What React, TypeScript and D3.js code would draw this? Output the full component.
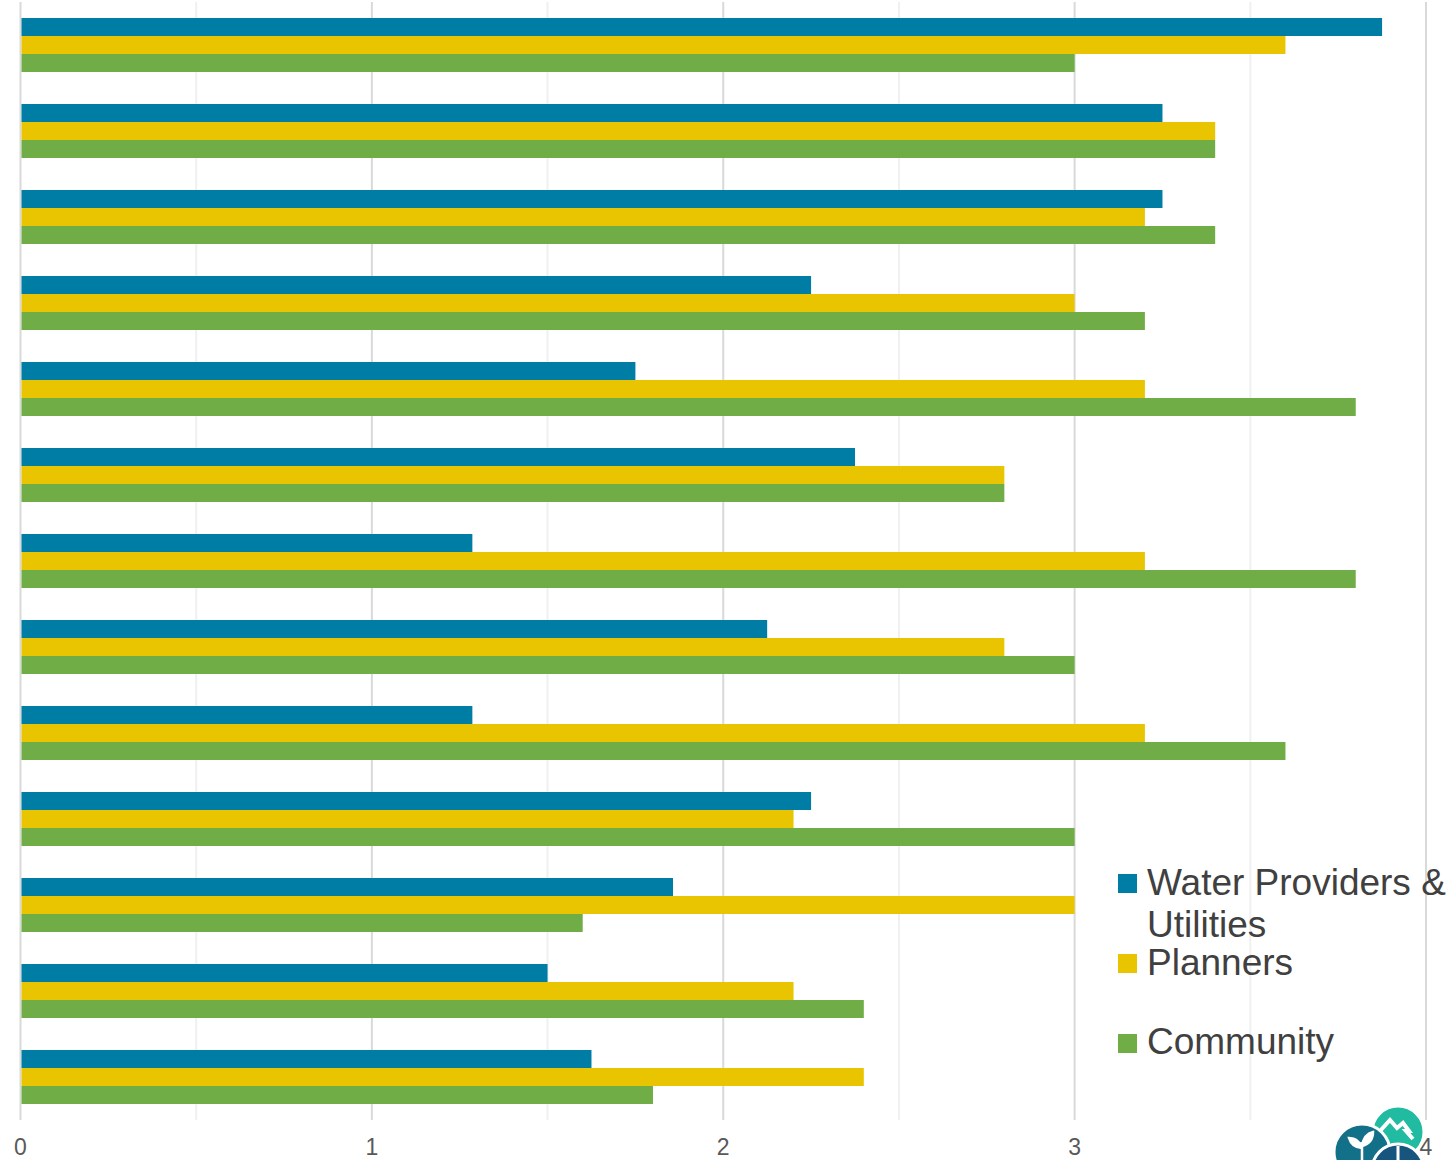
import React, { useEffect, useRef } from 'react';
import * as d3 from 'd3';

const categories = [
  'Item 1', 'Item 2', 'Item 3', 'Item 4', 'Item 5', 'Item 6', 'Item 7',
  'Item 8', 'Item 9', 'Item 10', 'Item 11', 'Item 12', 'Item 13',
];
const seriesNames = ['Water Providers & Utilities', 'Planners', 'Community'];
const waterProviders = [3.875, 3.25, 3.25, 2.25, 1.75, 2.375, 1.286, 2.125, 1.286, 2.25, 1.857, 1.5, 1.625];
const planners = [3.6, 3.4, 3.2, 3.0, 3.2, 2.8, 3.2, 2.8, 3.2, 2.2, 3.0, 2.2, 2.4];
const community = [3.0, 3.4, 3.4, 3.2, 3.8, 2.8, 3.8, 3.0, 3.6, 3.0, 1.6, 2.4, 1.8];
const seriesColors = ['#007DA4', '#E8C500', '#70AD47'];
const xTicks = [0, 1, 2, 3, 4];
const minorTicks = [0.5, 1.5, 2.5, 3.5];

const W = 1454;
const H = 1160;

function App() {
  const ref = useRef<SVGSVGElement>(null);

  useEffect(() => {
    document.body.style.margin = '0';
    const svg = d3.select(ref.current);
    svg.selectAll('*').remove();

    const values = [waterProviders, planners, community];
    const x = d3.scaleLinear().domain([0, 4]).range([20.5, 1426]);
    const y = d3.scaleBand<string>()
      .domain(categories)
      .range([2, 1120])
      .paddingInner(0.372)
      .paddingOuter(0.186);
    const ySub = d3.scaleBand<string>()
      .domain(seriesNames)
      .range([0, y.bandwidth()]);

    // gridlines
    svg.append('g')
      .selectAll('line')
      .data(minorTicks)
      .join('line')
      .attr('x1', d => x(d)).attr('x2', d => x(d))
      .attr('y1', 2).attr('y2', 1120)
      .attr('stroke', '#f0f0f0')
      .attr('stroke-width', 2);
    svg.append('g')
      .selectAll('line')
      .data(xTicks)
      .join('line')
      .attr('x1', d => x(d)).attr('x2', d => x(d))
      .attr('y1', 2).attr('y2', 1120)
      .attr('stroke', '#d9d9d9')
      .attr('stroke-width', 2);

    // bars
    const groups = svg.append('g')
      .selectAll('g')
      .data(categories)
      .join('g')
      .attr('transform', d => `translate(0,${y(d)})`);

    groups.selectAll('rect')
      .data((_, i) => seriesNames.map((s, j) => ({ s, j, v: values[j][i] })))
      .join('rect')
      .attr('x', x(0) + 1)
      .attr('y', d => ySub(d.s) as number)
      .attr('width', d => x(d.v) - x(0) - 1)
      .attr('height', ySub.bandwidth())
      .attr('fill', d => seriesColors[d.j]);

    // logo
    const logo = svg.append('g');
    logo.append('circle').attr('cx', 1398).attr('cy', 1132).attr('r', 26)
      .attr('fill', '#20BBA1').attr('stroke', '#fff').attr('stroke-width', 3);
    logo.append('path')
      .attr('d', 'M1380,1131 L1390,1120 L1397,1128 L1403,1123 L1409,1131 L1406,1131 L1413,1139')
      .attr('fill', 'none').attr('stroke', '#fff').attr('stroke-width', 4)
      .attr('stroke-linejoin', 'miter');
    logo.append('circle').attr('cx', 1362).attr('cy', 1152).attr('r', 28)
      .attr('fill', '#127089').attr('stroke', '#fff').attr('stroke-width', 3);
    logo.append('path')
      .attr('d', 'M1362,1160 L1362,1142 M1362,1148 Q1352,1148 1349,1138 Q1359,1138 1362,1148 M1362,1146 Q1364,1134 1373,1132 Q1373,1143 1362,1146')
      .attr('fill', '#fff').attr('stroke', '#fff').attr('stroke-width', 2.5);
    logo.append('circle').attr('cx', 1398).attr('cy', 1170).attr('r', 26)
      .attr('fill', '#17557E').attr('stroke', '#fff').attr('stroke-width', 3);
    logo.append('path')
      .attr('d', 'M1398,1146 L1398,1160')
      .attr('stroke', '#fff').attr('stroke-width', 3);

    // x tick labels
    svg.append('g')
      .selectAll('text')
      .data(xTicks)
      .join('text')
      .attr('x', d => x(d))
      .attr('y', 1155)
      .attr('text-anchor', 'middle')
      .attr('font-family', 'Liberation Sans, Arial, sans-serif')
      .attr('font-size', 23)
      .attr('fill', '#595959')
      .text(d => String(d));

    // legend
    const legendRows = [
      { lines: ['Water Providers &', 'Utilities'], sq: 874, base: 895 },
      { lines: ['Planners'], sq: 954, base: 975 },
      { lines: ['Community'], sq: 1034, base: 1054 },
    ];
    const legend = svg.append('g');
    legendRows.forEach((r, i) => {
      legend.append('rect')
        .attr('x', 1118).attr('y', r.sq)
        .attr('width', 19).attr('height', 19)
        .attr('fill', seriesColors[i]);
      const t = legend.append('text')
        .attr('x', 1147).attr('y', r.base)
        .attr('font-family', 'Liberation Sans, Arial, sans-serif')
        .attr('font-size', 37)
        .attr('fill', '#404040');
      r.lines.forEach((ln, k) => {
        t.append('tspan').attr('x', 1147).attr('dy', k === 0 ? 0 : 42).text(ln);
      });
    });
  }, []);

  return (
    <div style={{ width: W, height: H }}>
      <svg ref={ref} width={W} height={H} style={{ display: 'block' }} />
    </div>
  );
}

export default App;
